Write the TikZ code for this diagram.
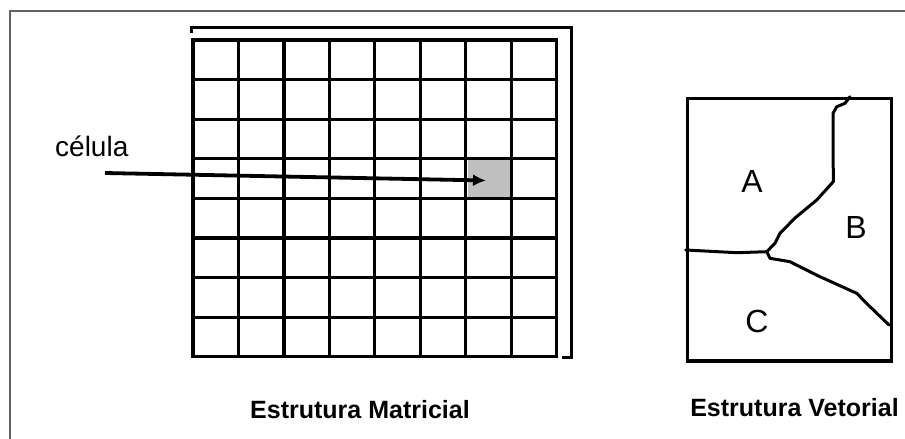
\documentclass[tikz,border=0pt]{standalone}
\usepackage{fontspec}
\setmainfont{Liberation Sans}
\usetikzlibrary{arrows.meta}
\begin{document}
\begin{tikzpicture}[x=1pt,y=-1pt,
  frame/.style={draw=black!62,line width=2.4pt},
  gridline/.style={line width=3.2pt,line cap=rect},
  region/.style={line width=3pt,line join=round,line cap=round},
  lbl/.style={inner sep=0pt,font=\fontsize{25}{28}\selectfont\bfseries},
  letter/.style={inner sep=0pt,font=\fontsize{32}{34}\selectfont}]
\useasboundingbox (0,0) rectangle (905,439);
% outer frame (open on right and bottom)
\draw[frame] (10,445) -- (10,11) -- (910,11);
% shifted frame behind grid
\draw[line width=3pt,line join=miter] (191,33) -- (191,27) -- (571,27) -- (571,357) -- (562,357);
% gray cell
\node[draw=none,fill=black!25,minimum width=45pt,minimum height=39.6pt,inner sep=0pt,anchor=north west] (cell) at (467.3,158.8) {};
% grid
\foreach \i in {0,...,8}{
  \draw[gridline] (193+45.45*\i,40) -- (193+45.45*\i,356.8);
  \draw[gridline] (193,40+39.6*\i) -- (556.6,40+39.6*\i);
}
% label and arrow
\node[inner sep=0pt,anchor=west,font=\fontsize{28}{30}\selectfont] (celula) at (55,146) {célula};
\coordinate (astart) at (105,173);
\coordinate (aend) at (486,180.5);
\draw[line width=3.8pt,-{Latex[length=13pt,width=12pt]}] (astart) -- (aend);
% vector structure
\node[draw,line width=3.6pt,minimum width=204pt,minimum height=262.6pt,inner sep=0pt,anchor=north west] (vbox) at (685.7,96.7) {};
\coordinate (j) at (766.7,251.7);
\draw[region] (850,96.7) -- (845,103.3) -- (836.7,106.7) -- (833,113.3) -- (833.3,181.7)
  -- (816.7,200) -- (795,218) -- (780,233.3) -- (775,243.3) -- (j);
\draw[region] (685.7,250) -- (736.7,252.7) -- (j);
\draw[region] (j) -- (770,258.3) -- (790,261.7) -- (820,276.7) -- (856.7,293.3)
  -- (870,306.7) -- (889,325);
\node[letter] (A) at (752,181) {A};
\node[letter] (B) at (856,227) {B};
\node[letter] (C) at (757,321) {C};
% captions
\node[lbl] (cap1) at (360,410) {Estrutura Matricial};
\node[lbl] (cap2) at (794.5,408) {Estrutura Vetorial};
\end{tikzpicture}
\end{document}
